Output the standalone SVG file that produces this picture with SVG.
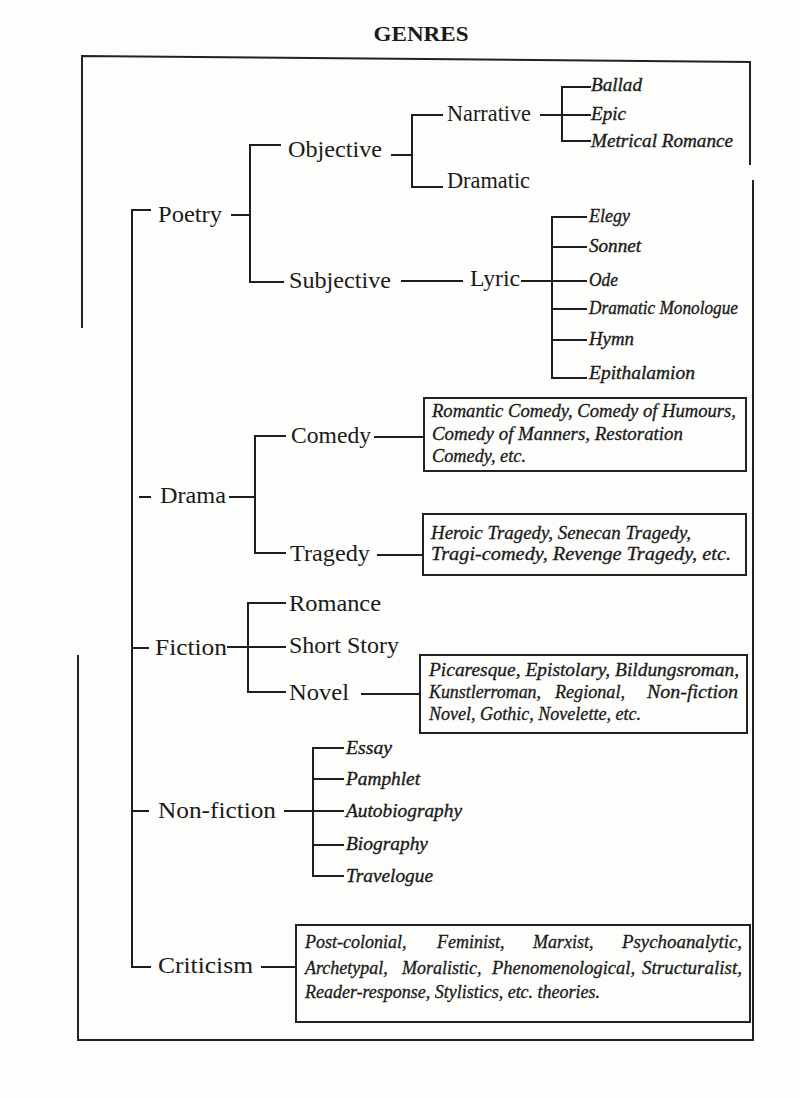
<svg xmlns="http://www.w3.org/2000/svg" width="800" height="1098" viewBox="0 0 800 1098">
<style>
.bg{fill:#fdfdfb}
.ln{stroke:#1e1e1e;stroke-width:2;fill:none;stroke-linecap:square}
.fr{stroke:#222;stroke-width:2;fill:none}
.bx{stroke:#222;stroke-width:2;fill:none}
.m{font-family:"Liberation Serif","Times New Roman",serif;font-size:23px;fill:#1a1a1a}
.t{font-family:"Liberation Serif","Times New Roman",serif;font-size:21px;font-weight:bold;fill:#1a1a1a}
.i{font-family:"Liberation Serif","Times New Roman",serif;font-size:19px;font-style:italic;fill:#1a1a1a;stroke:#1a1a1a;stroke-width:0.35}
.b{font-family:"Liberation Serif","Times New Roman",serif;font-size:18px;font-style:italic;fill:#1a1a1a;stroke:#1a1a1a;stroke-width:0.3}
</style>
<rect class="bg" x="0" y="0" width="800" height="1098"/>
<text class="t" x="421" y="41" text-anchor="middle" textLength="95" lengthAdjust="spacingAndGlyphs">GENRES</text>
<g id="frame">
<path class="fr" d="M82,328 L82,56 L750,62 L750,165"/>
<path class="fr" d="M753,180 L753,1040 L78,1040 L78,655"/>
</g>
<g id="connectors">
<path class="ln" d="M150,210 L132,210 L132,967 L150,967"/>
<path class="ln" d="M140,497 L150,497 M132,648 L148,648 M132,811 L148,811"/>
<path class="ln" d="M232,215 L250,215 M280,145 L250,145 L250,282 L283,282"/>
<path class="ln" d="M392,155 L412,155 M442,115 L412,115 L412,187 L442,187"/>
<path class="ln" d="M541,115 L590,115 M590,87 L562,87 L562,141 L590,141"/>
<path class="ln" d="M402,281 L462,281 M522,281 L586,281 M586,217 L552,217 L552,378 L586,378 M552,247 L586,247 M552,309 L586,309 M552,340 L586,340"/>
<path class="ln" d="M230,497 L255,497 M285,436 L255,436 L255,553 L285,553"/>
<path class="ln" d="M375,437 L424,437 M378,555 L423,555"/>
<path class="ln" d="M228,647 L285,647 M285,603 L248,603 L248,692 L285,692 M362,694 L420,694"/>
<path class="ln" d="M285,811 L343,811 M343,748 L313,748 L313,876 L343,876 M313,779 L343,779 M313,845 L343,845"/>
<path class="ln" d="M262,967 L296,967"/>
</g>
<g id="poetry"><text class="m" x="158" y="222" textLength="64" lengthAdjust="spacingAndGlyphs">Poetry</text></g>
<g id="objective"><text class="m" x="288" y="157" textLength="94" lengthAdjust="spacingAndGlyphs">Objective</text></g>
<g id="narrative"><text class="m" x="447" y="121" textLength="84" lengthAdjust="spacingAndGlyphs">Narrative</text></g>
<g id="dramatic"><text class="m" x="447" y="188" textLength="83" lengthAdjust="spacingAndGlyphs">Dramatic</text></g>
<g id="ballad"><text class="i" x="591" y="91" textLength="51" lengthAdjust="spacingAndGlyphs">Ballad</text></g>
<g id="epic"><text class="i" x="591" y="120" textLength="35" lengthAdjust="spacingAndGlyphs">Epic</text></g>
<g id="metrical"><text class="i" x="591" y="147" textLength="142" lengthAdjust="spacingAndGlyphs">Metrical Romance</text></g>
<g id="subjective"><text class="m" x="289" y="288" textLength="102" lengthAdjust="spacingAndGlyphs">Subjective</text></g>
<g id="lyric"><text class="m" x="470" y="286" textLength="50" lengthAdjust="spacingAndGlyphs">Lyric</text></g>
<g id="elegy"><text class="i" x="589" y="222" textLength="41" lengthAdjust="spacingAndGlyphs">Elegy</text></g>
<g id="sonnet"><text class="i" x="589" y="252" textLength="52" lengthAdjust="spacingAndGlyphs">Sonnet</text></g>
<g id="ode"><text class="i" x="589" y="286" textLength="29" lengthAdjust="spacingAndGlyphs">Ode</text></g>
<g id="dm"><text class="i" x="589" y="314" textLength="149" lengthAdjust="spacingAndGlyphs">Dramatic Monologue</text></g>
<g id="hymn"><text class="i" x="589" y="345" textLength="45" lengthAdjust="spacingAndGlyphs">Hymn</text></g>
<g id="epith"><text class="i" x="589" y="379" textLength="106" lengthAdjust="spacingAndGlyphs">Epithalamion</text></g>
<g id="drama"><text class="m" x="160" y="503" textLength="66" lengthAdjust="spacingAndGlyphs">Drama</text></g>
<g id="comedy"><text class="m" x="291" y="443" textLength="80" lengthAdjust="spacingAndGlyphs">Comedy</text></g>
<g id="tragedy"><text class="m" x="290" y="561" textLength="80" lengthAdjust="spacingAndGlyphs">Tragedy</text></g>
<g id="comedybox">
<rect class="bx" x="424" y="398" width="322" height="73"/>
<text class="b" x="432" y="417" textLength="304" lengthAdjust="spacingAndGlyphs">Romantic Comedy, Comedy of Humours,</text>
<text class="b" x="432" y="440" textLength="251" lengthAdjust="spacingAndGlyphs">Comedy of Manners, Restoration</text>
<text class="b" x="432" y="462" textLength="94" lengthAdjust="spacingAndGlyphs">Comedy, etc.</text>
</g>
<g id="tragedybox">
<rect class="bx" x="423" y="514" width="323" height="61"/>
<text class="b" x="431" y="539" textLength="260" lengthAdjust="spacingAndGlyphs">Heroic Tragedy, Senecan Tragedy,</text>
<text class="b" x="431" y="560" textLength="300" lengthAdjust="spacingAndGlyphs">Tragi-comedy, Revenge Tragedy, etc.</text>
</g>
<g id="fiction"><text class="m" x="155" y="655" textLength="72" lengthAdjust="spacingAndGlyphs">Fiction</text></g>
<g id="romance"><text class="m" x="289" y="611" textLength="92" lengthAdjust="spacingAndGlyphs">Romance</text></g>
<g id="shortstory"><text class="m" x="289" y="653" textLength="110" lengthAdjust="spacingAndGlyphs">Short Story</text></g>
<g id="novel"><text class="m" x="289" y="700" textLength="60" lengthAdjust="spacingAndGlyphs">Novel</text></g>
<g id="novelbox">
<rect class="bx" x="420" y="655" width="327" height="78"/>
<text class="b" x="429" y="676" textLength="310" lengthAdjust="spacingAndGlyphs">Picaresque, Epistolary, Bildungsroman,</text>
<text class="b" x="429" y="698" textLength="112" lengthAdjust="spacingAndGlyphs">Kunstlerroman,</text>
<text class="b" x="555" y="698" textLength="70" lengthAdjust="spacingAndGlyphs">Regional,</text>
<text class="b" x="647" y="698" textLength="91" lengthAdjust="spacingAndGlyphs">Non-fiction</text>
<text class="b" x="429" y="720" textLength="212" lengthAdjust="spacingAndGlyphs">Novel, Gothic, Novelette, etc.</text>
</g>
<g id="nonfiction"><text class="m" x="158" y="818" textLength="118" lengthAdjust="spacingAndGlyphs">Non-fiction</text></g>
<g id="essay"><text class="i" x="346" y="754" textLength="46" lengthAdjust="spacingAndGlyphs">Essay</text></g>
<g id="pamphlet"><text class="i" x="346" y="785" textLength="74" lengthAdjust="spacingAndGlyphs">Pamphlet</text></g>
<g id="autobio"><text class="i" x="346" y="817" textLength="116" lengthAdjust="spacingAndGlyphs">Autobiography</text></g>
<g id="bio"><text class="i" x="346" y="850" textLength="82" lengthAdjust="spacingAndGlyphs">Biography</text></g>
<g id="travel"><text class="i" x="346" y="882" textLength="87" lengthAdjust="spacingAndGlyphs">Travelogue</text></g>
<g id="criticism"><text class="m" x="158" y="973" textLength="95" lengthAdjust="spacingAndGlyphs">Criticism</text></g>
<g id="criticismbox">
<rect class="bx" x="296" y="925" width="454" height="97"/>
<text class="b" x="305" y="948">Post-colonial,</text>
<text class="b" x="437" y="948">Feminist,</text>
<text class="b" x="533" y="948">Marxist,</text>
<text class="b" x="622" y="948" textLength="120" lengthAdjust="spacingAndGlyphs">Psychoanalytic,</text>
<text class="b" x="305" y="974">Archetypal,</text>
<text class="b" x="402" y="974">Moralistic,</text>
<text class="b" x="492" y="974" textLength="143" lengthAdjust="spacingAndGlyphs">Phenomenological,</text>
<text class="b" x="642" y="974" textLength="100" lengthAdjust="spacingAndGlyphs">Structuralist,</text>
<text class="b" x="305" y="998" textLength="295" lengthAdjust="spacingAndGlyphs">Reader-response, Stylistics, etc. theories.</text>
</g>
</svg>
